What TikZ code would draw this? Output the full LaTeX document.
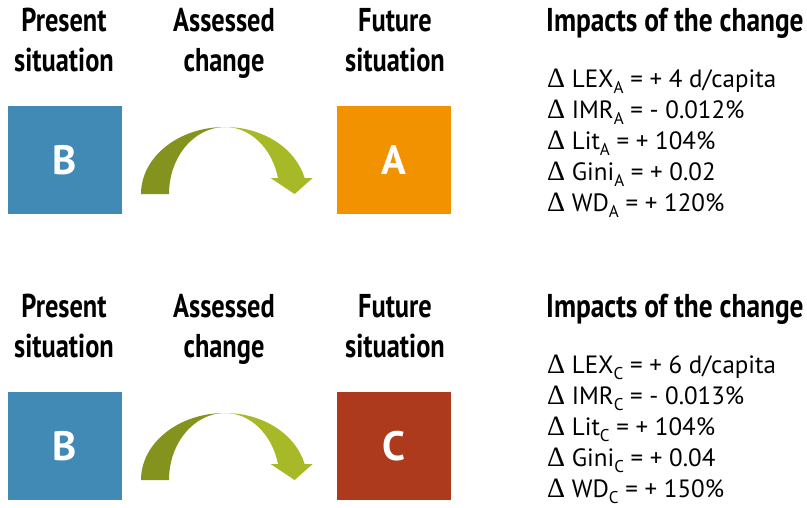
\documentclass[tikz,border=0pt]{standalone}
\usepackage{fontspec}
\setmainfont{PT Sans}
\newfontfamily\headfont[FakeStretch=0.8]{PT Sans}
\newfontfamily\impfont[FakeStretch=0.83]{PT Sans}
\newfontfamily\deltafont{Liberation Serif}
\definecolor{presblue}{RGB}{64,138,181}
\definecolor{futorange}{RGB}{243,146,0}
\definecolor{futred}{RGB}{173,58,28}
\definecolor{arrowdark}{RGB}{132,146,30}
\definecolor{arrowlight}{RGB}{168,185,40}

\newcommand{\lowidx}[1]{\raisebox{-0.22em}{\fontsize{17}{17}\selectfont #1}}
\newcommand{\dlt}{{\deltafont\fontsize{28}{31}\selectfont Δ}}
\newcommand{\change}[1]{
	\fill[arrowdark] (#1) ++(-84,0) arc[start angle=180, end angle=270, x radius=84, y radius=67] 
	arc[start angle=270, end angle=180, x radius=56, y radius=67] -- cycle;
	\fill[arrowlight] (#1) ++(0,-67) arc[start angle=270, end angle=346.2, x radius=82, y radius=67] 
	--++ (8,0) --++ (-18,16) --++ (-24,-16) --++ (7.4,0) 
	arc[start angle=346.2, end angle=270, x radius=54.6, y radius=67] -- cycle;
}

\tikzset{
	head/.style={font=\headfont\bfseries\fontsize{33}{40}\selectfont, align=center, inner sep=0pt, anchor=north},
	sitbox/.style={minimum width=114pt, minimum height=108pt, inner sep=0pt, text=white, 
		font=\bfseries\fontsize{41}{41}\selectfont},
	impacts/.style={font=\fontsize{25}{31}\selectfont, align=left, anchor=north west, inner sep=0pt},
}

\begin{document}
\begin{tikzpicture}
	[x=1pt, y=-1pt]
	\useasboundingbox[fill=white] (0,0) rectangle (807,507);
	\foreach \dy/\fut/\futcol/\lexval/\imrval/\ginival/\wdval in {0/A/futorange/4/012/02/120, 286/C/futred/6/013/04/150}{
		% headings
		\node[head] (pres\fut) at (64,8+\dy) {Present\\situation};
		\node[head] (assess\fut) at (224,8+\dy) {Assessed\\change};
		\node[head] (future\fut) at (395,8+\dy) {Future\\situation};
		\node[head, anchor=north west, font=\impfont\bfseries\fontsize{33}{40}\selectfont] (imphead\fut) 
			at (546,8+\dy) {Impacts of the change};
		% boxes
		\node[sitbox, fill=presblue] (now\fut) at (65,160+\dy) {B};
		\node[sitbox, fill=\futcol] (then\fut) at (394,160+\dy) {\fut};
		\change{225,194+\dy}
		% impacts
		\node[impacts] (list\fut) at (547,69+\dy) {\dlt\ LEX\lowidx{\fut} = + \lexval{} d/capita\\
			\dlt\ IMR\lowidx{\fut} = - 0.\imrval\%\\
			\dlt\ Lit\lowidx{\fut} = + 104\%\\
			\dlt\ Gini\lowidx{\fut} = + 0.\ginival\\
			\dlt\ WD\lowidx{\fut} = + \wdval\%};
	}
\end{tikzpicture}
\end{document}
